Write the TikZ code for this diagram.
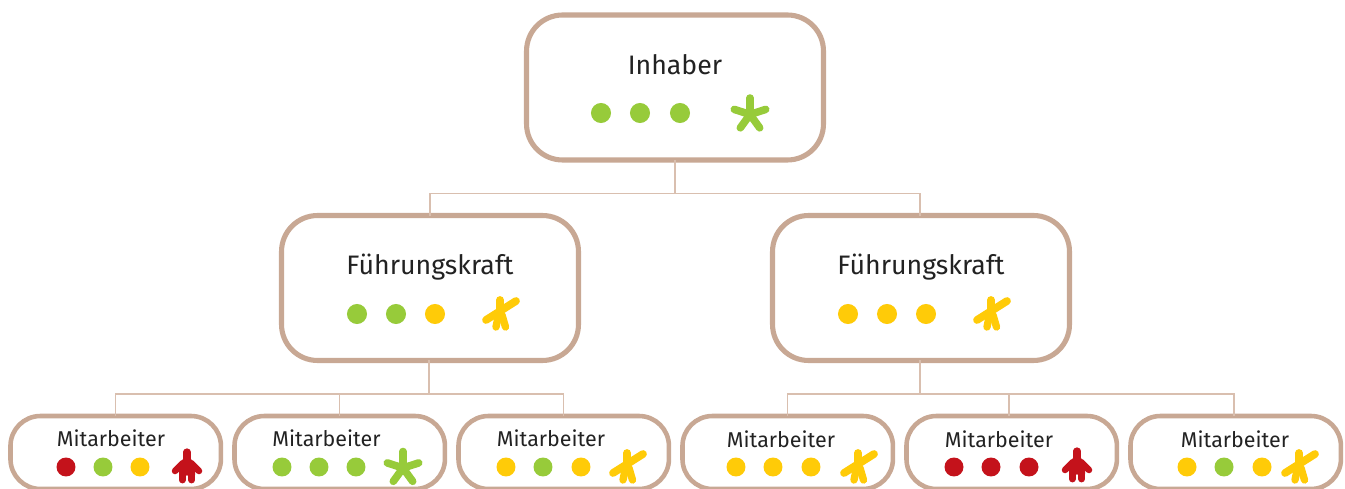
\documentclass[tikz,border=0pt]{standalone}
\usepackage{fontspec}
\setmainfont{Fira Sans}
\definecolor{rahmen}{HTML}{C8A894}
\definecolor{linie}{HTML}{D9BFAF}
\definecolor{gruen}{HTML}{97CB3A}
\definecolor{gelb}{HTML}{FFCB08}
\definecolor{rot}{HTML}{C4121B}
\definecolor{schrift}{HTML}{222222}
\tikzset{
    grossbox/.style={draw=rahmen, line width=2.9pt, fill=white, rounded corners=0.72cm,
        minimum width=5.94cm, minimum height=2.9cm, outer sep=0pt},
    kleinbox/.style={draw=rahmen, line width=2.6pt, fill=white, rounded corners=0.6cm,
        minimum width=4.21cm, minimum height=1.46cm, outer sep=0pt},
    grosstext/.style={text=schrift, anchor=base, font=\fontsize{15.2}{18}\selectfont},
    kleintext/.style={text=schrift, anchor=base, font=\fontsize{12.2}{14}\selectfont},
    verbindung/.style={draw=linie, line width=0.85pt},
    stern/.pic={
        \foreach \w in {-90,-162,-234,-306,-18}
            \draw[line width=4.3pt, line cap=round] (0,0) -- (\w:16.5);
    },
    winker/.pic={
        \draw[line width=4.4pt, line cap=round] (-1,-14) -- (-1,3);
        \draw[line width=4.2pt, line cap=round] (-2.5,1) -- (-5,13);
        \draw[line width=4.2pt, line cap=round] (1,1) -- (4.5,13);
        \draw[line width=4.4pt, line cap=round] (15,-13) -- (-15,6);
    },
    person/.pic={
        \draw[line width=4.1pt, line cap=round] (0,-16) -- (0,4);
        \draw[line width=3.7pt, line cap=round] (-12,3) -- (-4,-5);
        \draw[line width=3.7pt, line cap=round] (12,3) -- (4,-5);
        \draw[line width=3.9pt, line cap=round] (-4.7,2) -- (-4.7,12);
        \draw[line width=3.9pt, line cap=round] (4.7,2) -- (4.7,12);
        \fill (-3.5,-10) -- (3.5,-10) -- (9,0) -- (8,4) -- (8,7) -- (-8,7) -- (-8,4) -- (-9,0) -- cycle;
    },
}
\begin{document}
\begin{tikzpicture}[x=0.02cm, y=-0.02cm]
    \clip (0,0) rectangle (1345,489);

    % boxes
    \node[grossbox] (inhaber) at (675,87.5) {};
    \node[grossbox] (fkLinks) at (430,288) {};
    \node[grossbox] (fkRechts) at (921,288) {};
    \foreach \name/\x in {maA/115.7, maB/339.7, maC/563.7, maD/787.7, maE/1011.7, maF/1235.7}
        \node[kleinbox] (\name) at (\x,452.5) {};

    % connectors
    \coordinate (busOben) at (675,193.5);
    \coordinate (busLinks) at (429,394);
    \coordinate (busRechts) at (920,394);
    \draw[verbindung] (inhaber.south) -- (busOben);
    \draw[verbindung] (busOben) -| (fkLinks.north);
    \draw[verbindung] (busOben) -| ([xshift=-0.02cm]fkRechts.north);
    \draw[verbindung] ([xshift=-0.02cm]fkLinks.south) -- (busLinks);
    \draw[verbindung] (busLinks) -| (maA.north);
    \draw[verbindung] (busLinks) -| (maB.north);
    \draw[verbindung] (busLinks) -| (maC.north);
    \draw[verbindung] ([xshift=-0.02cm]fkRechts.south) -- (busRechts);
    \draw[verbindung] (busRechts) -| (maD.north);
    \draw[verbindung] (busRechts) -| ([xshift=-0.05cm]maE.north);
    \draw[verbindung] (busRechts) -| ([xshift=-0.03cm]maF.north);

    % labels
    \node[grosstext] (txtInhaber) at (675,75) {Inhaber};
    \node[grosstext] (txtFkLinks) at (430,275) {Führungskraft};
    \node[grosstext] (txtFkRechts) at (921,275) {Führungskraft};
    \node[kleintext] (txtA) at (111,446.5) {Mitarbeiter};
    \node[kleintext] (txtB) at (326.5,446.5) {Mitarbeiter};
    \node[kleintext] (txtC) at (551,446.5) {Mitarbeiter};
    \node[kleintext] (txtD) at (781,447.5) {Mitarbeiter};
    \node[kleintext] (txtE) at (999,447.5) {Mitarbeiter};
    \node[kleintext] (txtF) at (1235,447.5) {Mitarbeiter};

    % dots
    \foreach \x/\y/\farbe in {601/113/gruen, 640/113/gruen, 680/113/gruen,
            357/314/gruen, 396/314/gruen, 435/314/gelb,
            848/314/gelb, 887/314/gelb, 926/314/gelb}
        \fill[\farbe] (\x,\y) circle (5.7pt);
    \foreach \x/\farbe in {66/rot, 103/gruen, 140/gelb,
            282/gruen, 319/gruen, 356/gruen,
            506/gelb, 543/gruen, 581/gelb,
            736/gelb, 773/gelb, 811/gelb,
            954/rot, 991/rot, 1029/rot,
            1187/gelb, 1224/gruen, 1262/gelb}
        \fill[\farbe] (\x,467) circle (5.4pt);

    % figures
    \pic[color=gruen] at (750,114.5) {stern};
    \pic[color=gelb] at (501,314) {winker};
    \pic[color=gelb] at (992,314) {winker};
    \pic[color=rot] at (187,468) {person};
    \pic[color=gruen] at (403,468) {stern};
    \pic[color=gelb] at (628,467) {winker};
    \pic[color=gelb] at (859,467) {winker};
    \pic[color=rot] at (1077,467) {person};
    \pic[color=gelb] at (1300,467) {winker};
\end{tikzpicture}
\end{document}
